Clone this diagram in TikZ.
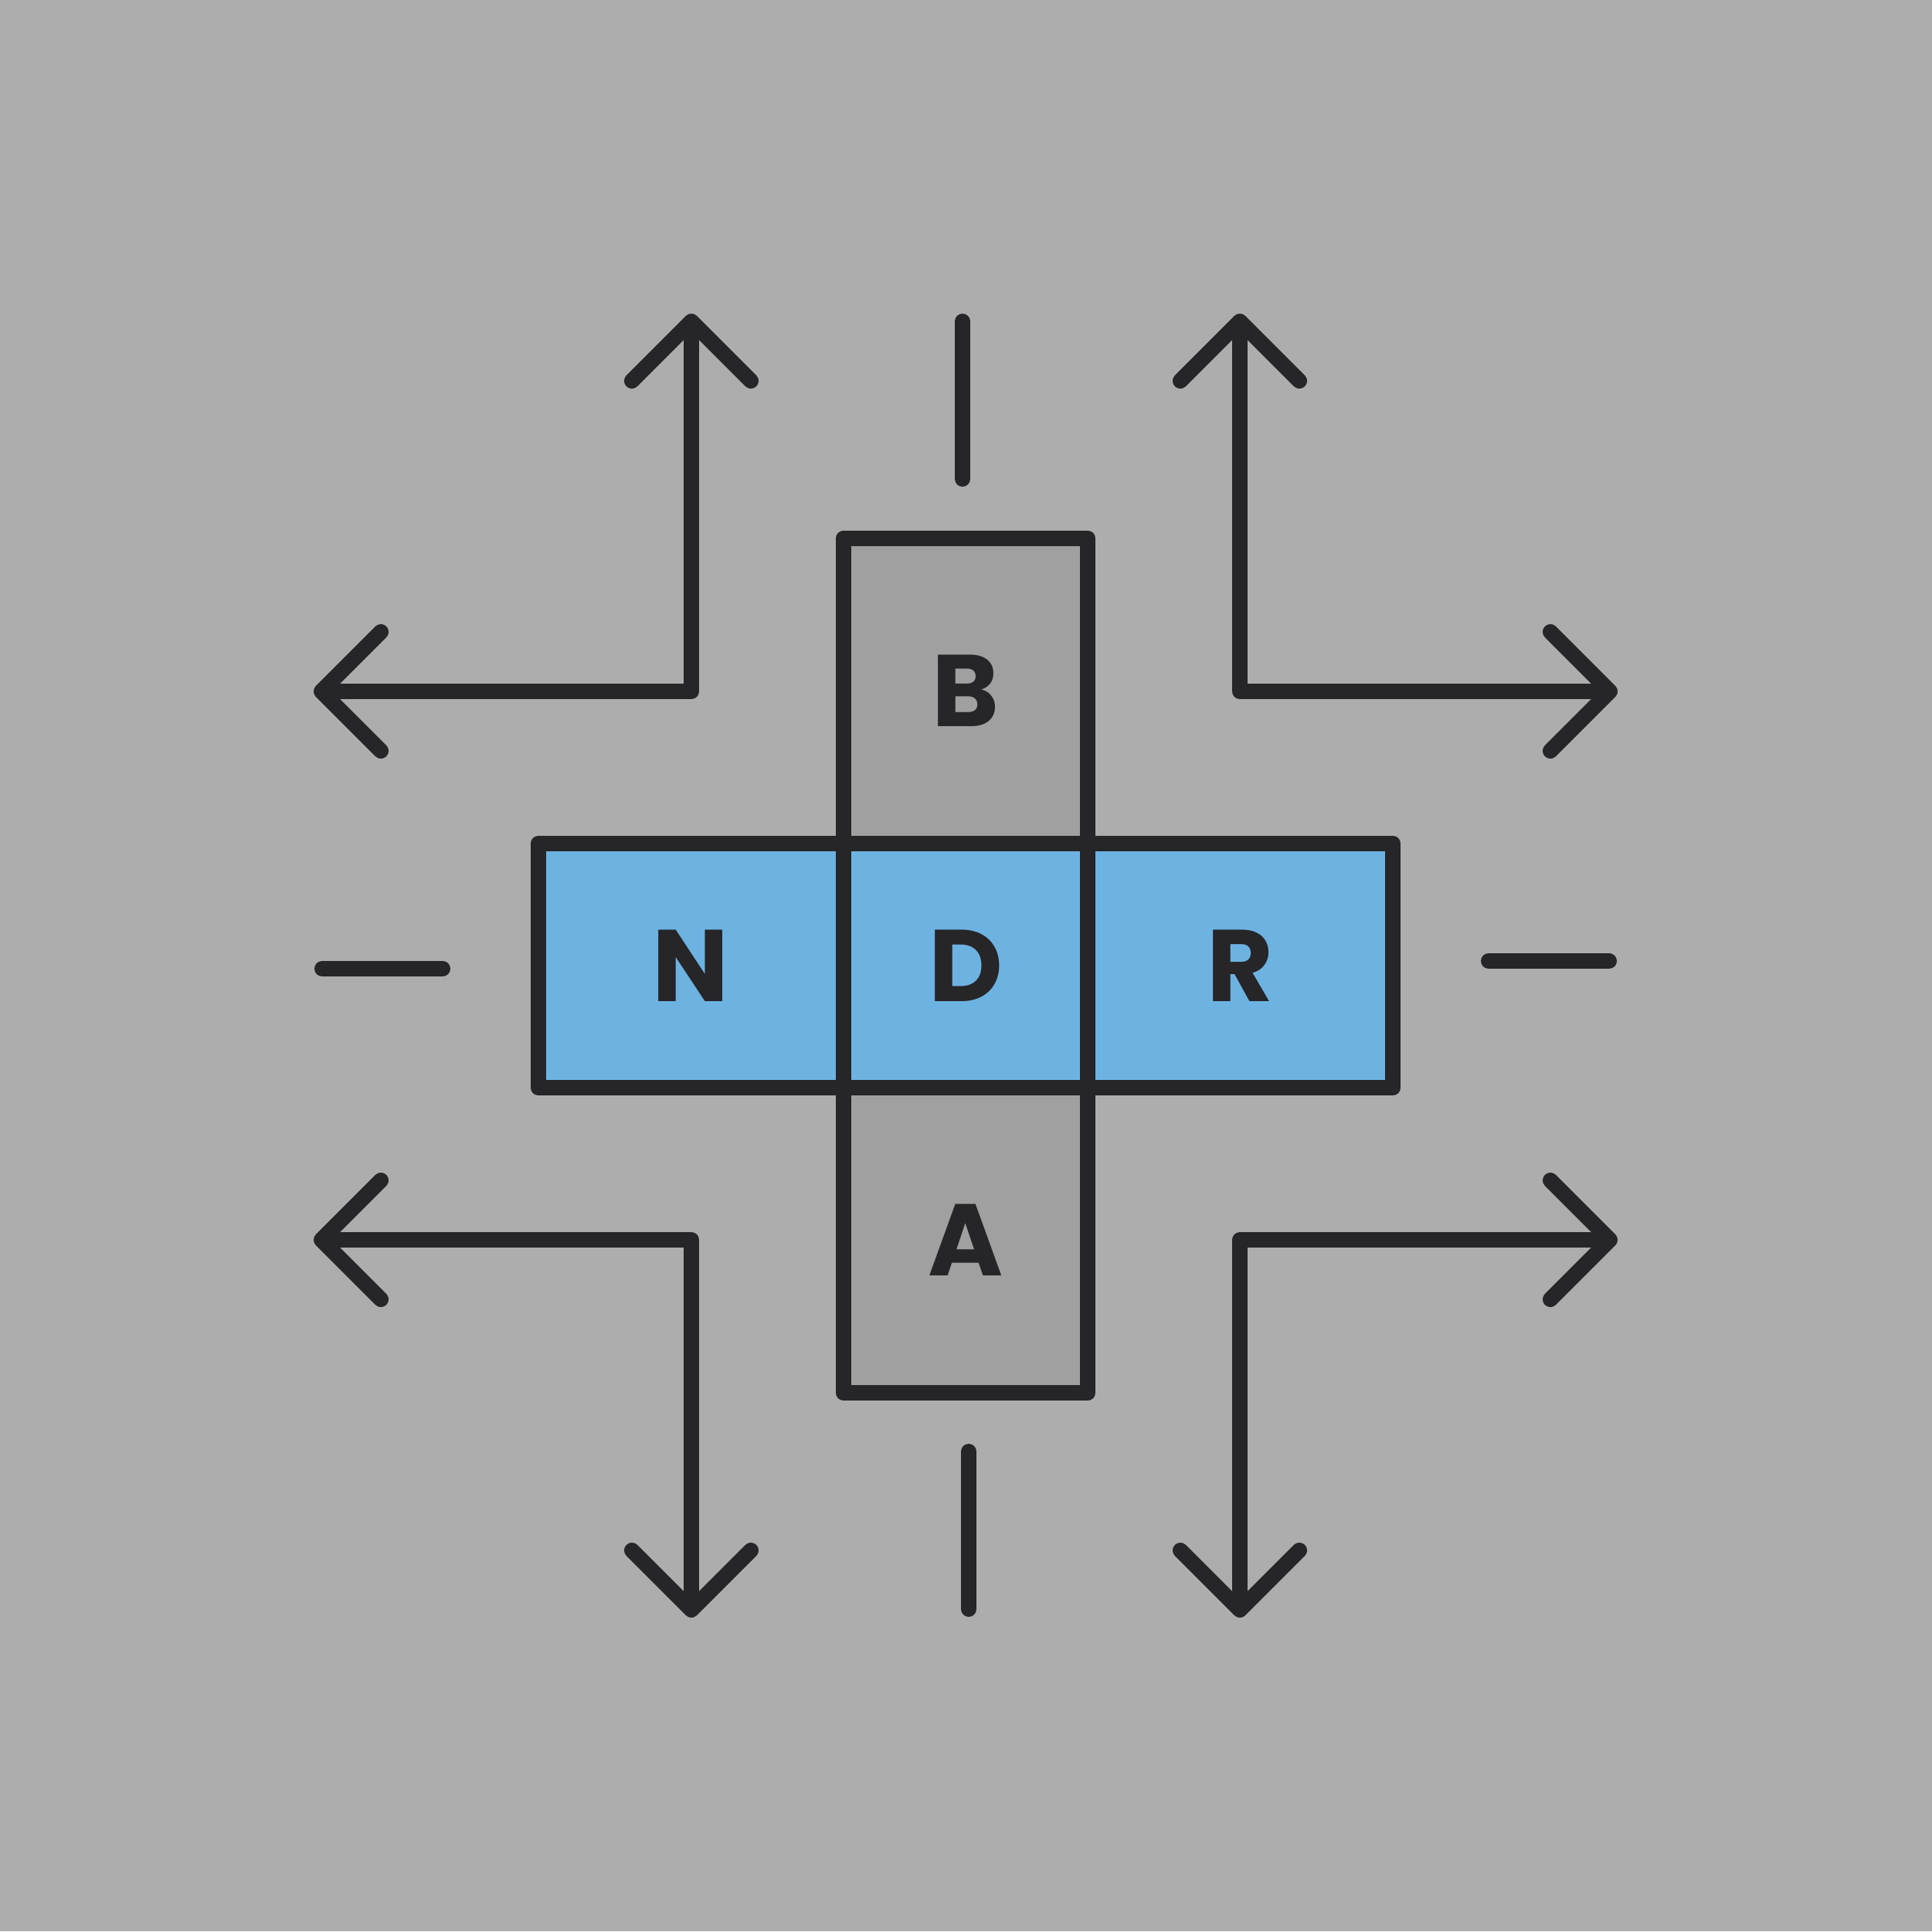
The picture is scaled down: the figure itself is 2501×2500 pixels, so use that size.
\documentclass[tikz,border=0pt]{standalone}
\usepackage{fontspec}
\setmainfont{Poppins}
\usetikzlibrary{positioning,arrows.meta}
\definecolor{ink}{HTML}{262528}
\definecolor{canvas}{HTML}{ADADAD}
\definecolor{stone}{HTML}{A0A0A0}
\definecolor{sky}{HTML}{6DB3E2}

\begin{document}
\begin{tikzpicture}[
  x=0.01cm, y=-0.01cm,
  font=\fontsize{37.5}{40}\selectfont\bfseries,
  chevron/.tip={Straight Barb[length=0.77cm, width=1.54cm, round]},
  cell/.style={draw=ink, fill=#1, text=ink, line width=0.2cm, line join=round, inner sep=0pt, outer sep=0pt, minimum width=3.16cm, minimum height=3.16cm},
  tall/.style={cell=stone, minimum height=3.95cm},
  wide/.style={cell=sky, minimum width=3.95cm},
  turn/.style={draw=ink, line width=0.2cm, line cap=round, line join=round, chevron-chevron},
  tick/.style={draw=ink, line width=0.2cm, line cap=round},
  node distance=0pt
]

\fill[canvas] (0,0) rectangle (2501,2500);

\node[tall] (back) at (1250,894.5) {B};
\node[tall] (ahead) at (1250,1605.5) {A};
\node[wide] (left) at (894.5,1250) {N};
\node[wide] (right) at (1605.5,1250) {R};
\node[cell=sky] (drive) at (1250,1250) {D};

\coordinate (nw up) at (895,406);
\coordinate (nw side) at (406,895);
\coordinate (ne up) at (1605,406);
\coordinate (ne side) at (2094,895);
\coordinate (sw down) at (895,2094);
\coordinate (sw side) at (406,1605);
\coordinate (se down) at (1605,2094);
\coordinate (se side) at (2094,1605);

\draw[turn] (nw side) -| (nw up);
\draw[turn] (ne side) -| (ne up);
\draw[turn] (sw side) -| (sw down);
\draw[turn] (se side) -| (se down);

\draw[tick] (1246,416) -- (1246,620);
\draw[tick] (1254,1879) -- (1254,2083);
\draw[tick] (417,1254) -- (573,1254);
\draw[tick] (1927,1244) -- (2083,1244);
\end{tikzpicture}
\end{document}
